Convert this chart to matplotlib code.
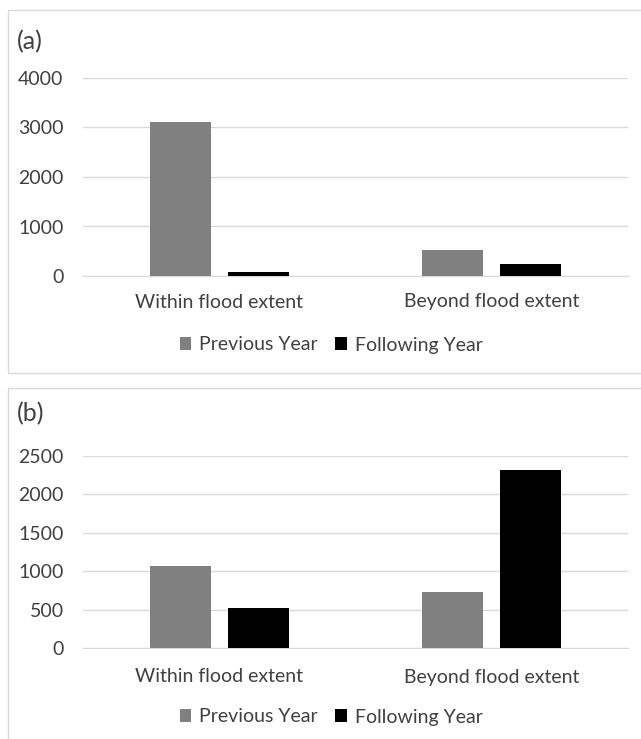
import matplotlib
matplotlib.use("Agg")
import matplotlib.pyplot as plt
from matplotlib.patches import Rectangle, Patch
import numpy as np

plt.rcParams['font.family'] = ['Lato', 'DejaVu Sans']

categories = ["Within flood extent", "Beyond flood extent"]
series_names = ["Previous Year", "Following Year"]
a_prev = [3120, 527]
a_follow = [74, 250]
b_prev = [1071, 730]
b_follow = [524, 2316]
a_ticks = [0, 1000, 2000, 3000, 4000]
b_ticks = [0, 500, 1000, 1500, 2000, 2500]

W, H = 641, 739
fig = plt.figure(figsize=(W / 100, H / 100), dpi=100)
fig.patch.set_facecolor('white')

def fx(px):
    return px / W

def fy(py):
    return 1 - py / H

# panel borders
for (top, bot) in [(10, 373), (388, 745)]:
    fig.patches.append(Rectangle((fx(8), fy(bot)), fx(700) - fx(8), fy(top) - fy(bot),
                                 transform=fig.transFigure, fill=False,
                                 edgecolor='#d9d9d9', linewidth=1.0, zorder=0))

colors = ['#808080', '#000000']
txtc = '#404040'
FS = 14

def panel(top_px, bot_px, prev, follow, ticks, label, label_y, cat_y, leg_y):
    ax = fig.add_axes([fx(83), fy(bot_px), fx(628) - fx(83), fy(top_px) - fy(bot_px)])
    x = np.arange(len(categories))
    w = 0.224
    off = 0.143
    ax.bar(x - off, prev, width=w, color=colors[0], zorder=3)
    ax.bar(x + off, follow, width=w, color=colors[1], zorder=3)
    ax.set_xlim(-0.5, 1.5)
    ax.set_ylim(ticks[0], ticks[-1])
    ax.set_yticks(ticks)
    ax.set_yticklabels([str(t) for t in ticks], fontsize=FS, color=txtc)
    ax.yaxis.grid(True, color='#d9d9d9', linewidth=1.0, zorder=0)
    ax.set_xticks([])
    for s in ['top', 'right', 'left']:
        ax.spines[s].set_visible(False)
    ax.spines['bottom'].set_color('#d9d9d9')
    ax.spines['bottom'].set_zorder(1)
    ax.tick_params(axis='y', length=0, pad=14)
    for xi, c in zip(x, categories):
        xpos = (fx(83) + (xi + 0.5) / 2 * (fx(628) - fx(83)))
        fig.text(xpos, fy(cat_y), c, ha='center', va='center', fontsize=FS, color=txtc)
    fig.text(fx(17), fy(label_y), label, fontsize=18, color=txtc, ha='left', va='center')
    handles = [Patch(facecolor=colors[0]), Patch(facecolor=colors[1])]
    fig.legend(handles, series_names, loc='center', bbox_to_anchor=(fx(331), fy(leg_y)),
               ncol=2, frameon=False, fontsize=FS, labelcolor=txtc,
               handlelength=0.6, handleheight=0.6, handletextpad=0.4, columnspacing=0.9)
    return ax

panel(78, 276, a_prev, a_follow, a_ticks, "(a)", 42, 302, 345)
panel(456, 648, b_prev, b_follow, b_ticks, "(b)", 414, 677, 717)

fig.savefig("out.png", dpi=100)
